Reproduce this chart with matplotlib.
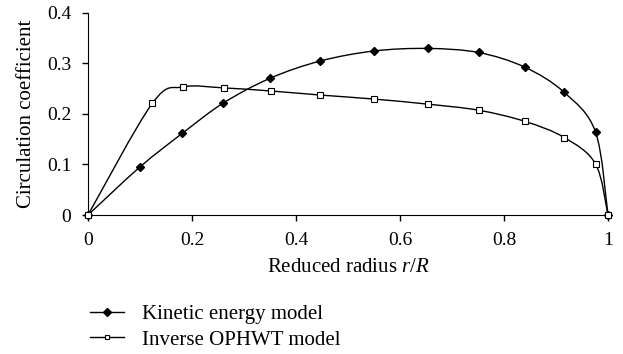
import numpy as np
import matplotlib
matplotlib.use('Agg')
import matplotlib.pyplot as plt
from matplotlib.path import Path
from matplotlib.patches import PathPatch

# values
r_kin = [0.0, 0.10, 0.181, 0.26, 0.35, 0.446, 0.55, 0.653, 0.751, 0.840, 0.916, 0.976, 1.0]
c_kin = [0.0, 0.095, 0.161, 0.221, 0.270, 0.304, 0.324, 0.329, 0.321, 0.292, 0.242, 0.164, 0.0]

r_inv = [0.0, 0.124, 0.183, 0.262, 0.351, 0.446, 0.55, 0.653, 0.751, 0.840, 0.916, 0.976, 1.0]
c_inv = [0.0, 0.221, 0.253, 0.251, 0.245, 0.237, 0.229, 0.219, 0.207, 0.185, 0.153, 0.101, 0.0]

xticks = [0, 0.2, 0.4, 0.6, 0.8, 1]
xticklabels = ['0', '0.2', '0.4', '0.6', '0.8', '1']
yticks = [0, 0.1, 0.2, 0.3, 0.4]
yticklabels = ['0', '0.1', '0.2', '0.3', '0.4']

plt.rcParams['font.family'] = ['Liberation Serif', 'DejaVu Serif']
plt.rcParams['mathtext.fontset'] = 'custom'
plt.rcParams['mathtext.rm'] = 'Liberation Serif'
plt.rcParams['mathtext.it'] = 'Liberation Serif:italic'


def smooth_path(ax, x, y):
    # spreadsheet-style smoothed line: cubic Bezier through the points,
    # computed in display space so the look does not depend on axis scales
    pts = ax.transData.transform(np.column_stack([x, y]))
    ext = np.vstack([pts[0], pts, pts[-1]])
    verts = [pts[0]]
    codes = [Path.MOVETO]
    for i in range(len(pts) - 1):
        p0, p1, p2, p3 = ext[i], ext[i + 1], ext[i + 2], ext[i + 3]
        c1 = p1 + (p2 - p0) / 6.0
        c2 = p2 - (p3 - p1) / 6.0
        verts += [c1, c2, p2]
        codes += [Path.CURVE4] * 3
    verts = ax.transData.inverted().transform(np.array(verts))
    return Path(verts, codes)


fig = plt.figure(figsize=(6.23, 3.54), dpi=100)
ax = fig.add_axes([88 / 623, 139 / 354, 520 / 623, 202.5 / 354])
ax.set_xlim(0, 1)
ax.set_ylim(0, 0.4)

for x, y in [(r_kin, c_kin), (r_inv, c_inv)]:
    ax.add_patch(PathPatch(smooth_path(ax, x, y), facecolor='none',
                           edgecolor='black', lw=1.0, clip_on=False, zorder=2))

kin, = ax.plot(r_kin, c_kin, color='black', lw=1.0, ls='none', marker='D',
               ms=4.5, mfc='black', mec='black', clip_on=False, zorder=3)
inv, = ax.plot(r_inv, c_inv, color='black', lw=1.0, ls='none', marker='s',
               ms=4, mfc='white', mec='black', mew=0.8, clip_on=False, zorder=4)

ax.set_xticks(xticks)
ax.set_xticklabels(xticklabels)
ax.set_yticks(yticks)
ax.set_yticklabels(yticklabels)
ax.spines['top'].set_visible(False)
ax.spines['right'].set_visible(False)
ax.tick_params(direction='out', length=4, width=1, pad=8, labelsize=14)
ax.set_xlabel('Reduced radius $\\it{r/R}$', fontsize=15, labelpad=7)
ax.set_ylabel('Circulation coefficient', fontsize=15, labelpad=8)

# legend handles with line + marker
h1 = plt.Line2D([], [], color='black', lw=1.0, marker='D', ms=4, mfc='black')
h2 = plt.Line2D([], [], color='black', lw=1.0, marker='s', ms=3.5, mfc='white', mew=0.8)
fig.legend([h1, h2], ['Kinetic energy model', 'Inverse OPHWT model'],
           loc='upper left', bbox_to_anchor=(82 / 623, 1 - 296 / 354),
           frameon=False, handlelength=1.6, handletextpad=0.9,
           labelspacing=0.3, fontsize=15, borderaxespad=0)

plt.savefig('out.png', dpi=100)
